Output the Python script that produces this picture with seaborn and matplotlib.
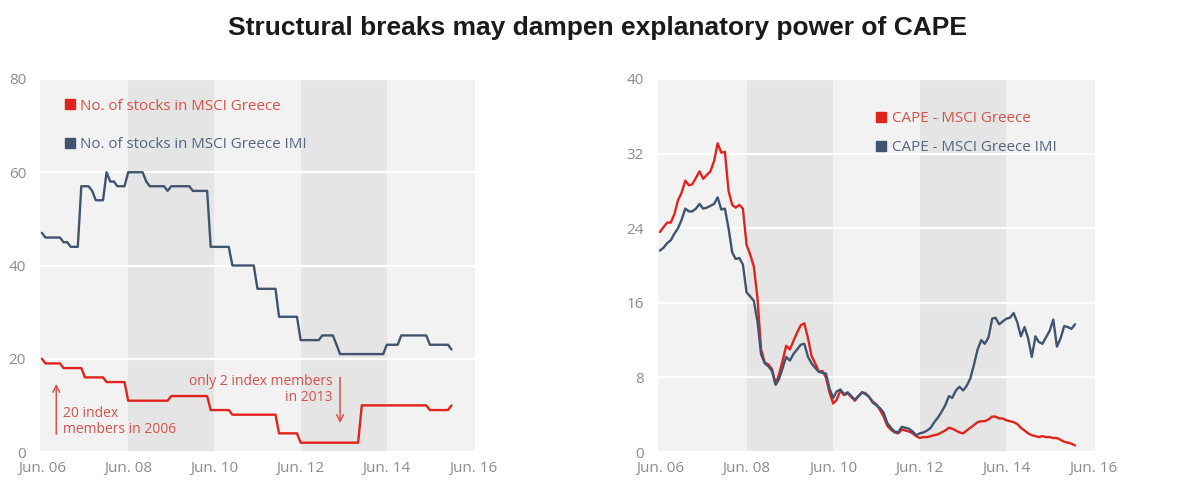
import matplotlib
matplotlib.use("Agg")
import matplotlib.pyplot as plt
import seaborn as sns
import pandas as pd
from matplotlib.lines import Line2D

# ---------------- data ----------------
# Number of index members, monthly, Jun 2006 .. Dec 2015
msci_greece_count = [
    20, 19, 19, 19, 19, 19, 18, 18, 18, 18, 18, 18,
    16, 16, 16, 16, 16, 16, 15, 15, 15, 15, 15, 15,
    11, 11, 11, 11, 11, 11, 11, 11, 11, 11, 11, 11,
    12, 12, 12, 12, 12, 12, 12, 12, 12, 12, 12, 9,
    9, 9, 9, 9, 9, 8, 8, 8, 8, 8, 8, 8,
    8, 8, 8, 8, 8, 8, 4, 4, 4, 4, 4, 4,
    2, 2, 2, 2, 2, 2, 2, 2, 2, 2, 2, 2,
    2, 2, 2, 2, 2, 10, 10, 10, 10, 10, 10, 10,
    10, 10, 10, 10, 10, 10, 10, 10, 10, 10, 10, 10,
    9, 9, 9, 9, 9, 9, 10,
]
msci_greece_imi_count = [
    47, 46, 46, 46, 46, 46, 45, 45, 44, 44, 44, 57,
    57, 57, 56, 54, 54, 54, 60, 58, 58, 57, 57, 57,
    60, 60, 60, 60, 60, 58, 57, 57, 57, 57, 57, 56,
    57, 57, 57, 57, 57, 57, 56, 56, 56, 56, 56, 44,
    44, 44, 44, 44, 44, 40, 40, 40, 40, 40, 40, 40,
    35, 35, 35, 35, 35, 35, 29, 29, 29, 29, 29, 29,
    24, 24, 24, 24, 24, 24, 25, 25, 25, 25, 23, 21,
    21, 21, 21, 21, 21, 21, 21, 21, 21, 21, 21, 21,
    23, 23, 23, 23, 25, 25, 25, 25, 25, 25, 25, 25,
    23, 23, 23, 23, 23, 23, 22,
]

# CAPE, monthly, Jun 2006 .. Jan 2016
cape_greece = [
    23.6, 24.1, 24.6, 24.6, 25.5, 27.0, 27.8, 29.1, 28.6, 28.7,
    29.4, 30.1, 29.3, 29.7, 30.1, 31.2, 33.1, 32.1, 32.2, 28.0,
    26.5, 26.2, 26.5, 26.1, 22.2, 21.2, 19.9, 16.5, 11.0, 9.6,
    9.4, 8.9, 7.3, 8.3, 9.8, 11.4, 11.0, 11.9, 12.8, 13.6,
    13.8, 12.2, 10.3, 9.5, 8.6, 8.7, 8.0, 6.4, 5.2, 5.6,
    6.6, 6.1, 6.3, 5.9, 5.5, 6.0, 6.4, 6.3, 5.9, 5.4,
    5.1, 4.5, 3.8, 2.8, 2.4, 2.1, 2.0, 2.4, 2.3, 2.2,
    2.0, 1.7, 1.5, 1.6, 1.6, 1.7, 1.8, 1.9, 2.1, 2.3,
    2.6, 2.5, 2.3, 2.1, 2.0, 2.3, 2.6, 2.9, 3.2, 3.3,
    3.3, 3.5, 3.8, 3.8, 3.6, 3.6, 3.4, 3.3, 3.2, 3.0,
    2.6, 2.3, 2.0, 1.8, 1.7, 1.6, 1.7, 1.6, 1.6, 1.5,
    1.5, 1.3, 1.1, 1.0, 0.9, 0.7,
]
cape_greece_imi = [
    21.6, 21.9, 22.4, 22.7, 23.4, 24.0, 24.9, 26.1, 25.8, 25.8,
    26.1, 26.6, 26.1, 26.2, 26.4, 26.6, 27.3, 26.0, 26.1, 24.0,
    21.4, 20.7, 20.8, 20.1, 17.1, 16.7, 16.2, 14.0, 10.5, 9.5,
    9.2, 8.7, 7.2, 7.8, 9.0, 10.2, 9.8, 10.5, 11.0, 11.5,
    11.6, 10.2, 9.5, 9.0, 8.6, 8.5, 8.4, 6.8, 5.8, 6.5,
    6.7, 6.2, 6.4, 6.0, 5.6, 6.0, 6.4, 6.2, 5.9, 5.3,
    5.0, 4.7, 4.2, 3.1, 2.6, 2.2, 2.1, 2.7, 2.6, 2.5,
    2.2, 1.8, 2.0, 2.1, 2.3, 2.6, 3.2, 3.7, 4.3, 5.0,
    6.0, 5.8, 6.6, 7.0, 6.6, 7.1, 7.9, 9.4, 11.0, 12.0,
    11.6, 12.3, 14.3, 14.4, 13.7, 14.0, 14.3, 14.4, 14.9, 13.9,
    12.4, 13.4, 12.2, 10.2, 12.4, 11.8, 11.6, 12.3, 13.0, 14.2,
    11.3, 12.2, 13.5, 13.4, 13.2, 13.7,
]

x_tick_dates = ["2006-06-01", "2008-06-01", "2010-06-01",
                "2012-06-01", "2014-06-01", "2016-06-01"]
x_tick_labels = ["Jun. 06", "Jun. 08", "Jun. 10", "Jun. 12", "Jun. 14", "Jun. 16"]
left_yticks = [0, 20, 40, 60, 80]
right_yticks = [0, 8, 16, 24, 32, 40]

left_labels = ["No. of stocks in MSCI Greece", "No. of stocks in MSCI Greece IMI"]
right_labels = ["CAPE - MSCI Greece", "CAPE - MSCI Greece IMI"]
title = "Structural breaks may dampen explanatory power of CAPE"

# ---------------- style ----------------
RED = "#e0231c"
BLUE = "#41546f"
RED_TXT = "#d9504a"
BLUE_TXT = "#55657e"
TICK = "#8c8c8c"
LIGHT = "#f2f2f2"
DARK = "#e5e5e5"

sns.set_theme(style="white")
plt.rcParams["font.family"] = ["Open Sans", "DejaVu Sans"]

count_dates = pd.date_range("2006-06-01", periods=len(msci_greece_count), freq="MS")
cape_dates = pd.date_range("2006-06-01", periods=len(cape_greece), freq="MS")
ticks = pd.to_datetime(x_tick_dates)

fig = plt.figure(figsize=(11.95, 4.87), dpi=100)
W, H = 1195, 487
ax1 = fig.add_axes([40 / W, 35 / H, 435 / W, 373 / H])
ax2 = fig.add_axes([658 / W, 35 / H, 437 / W, 373 / H])

pad = pd.Timedelta(days=16)


def style_axis(ax, yticks):
    ax.set_facecolor(LIGHT)
    for i in range(len(ticks) - 1):
        if i % 2 == 1:
            ax.axvspan(ticks[i], ticks[i + 1], color=DARK, lw=0, zorder=0.2)
    ax.set_xlim(ticks[0] - pad, ticks[-1] + pad)
    ax.set_ylim(yticks[0], yticks[-1])
    ax.set_xticks(ticks)
    ax.set_xticklabels(x_tick_labels)
    ax.set_yticks(yticks)
    ax.set_yticklabels([str(v) for v in yticks])
    ax.yaxis.grid(True, color="white", lw=1.6, zorder=0.5)
    ax.xaxis.grid(False)
    ax.set_axisbelow(True)
    for s in ax.spines.values():
        s.set_visible(False)
    ax.tick_params(axis="both", length=0, colors=TICK, labelsize=11)
    ax.tick_params(axis="x", pad=6.5)
    ax.tick_params(axis="y", pad=10)
    for lbl in ax.get_yticklabels():
        lbl.set_verticalalignment("center_baseline")
    ax.set_xlabel("")
    ax.set_ylabel("")


# left chart
sns.lineplot(x=count_dates, y=msci_greece_count, ax=ax1, color=RED, lw=1.7, zorder=3)
sns.lineplot(x=count_dates, y=msci_greece_imi_count, ax=ax1, color=BLUE, lw=1.7, zorder=3)
style_axis(ax1, left_yticks)

# right chart
sns.lineplot(x=cape_dates, y=cape_greece, ax=ax2, color=RED, lw=1.7, zorder=3)
sns.lineplot(x=cape_dates, y=cape_greece_imi, ax=ax2, color=BLUE, lw=1.7, zorder=4)
style_axis(ax2, right_yticks)


def add_legend(ax, labels, anchor, spacing):
    handles = [Line2D([], [], ls="none", marker="s", markersize=7, color=RED),
               Line2D([], [], ls="none", marker="s", markersize=7, color=BLUE)]
    ax.legend(handles, labels, loc="upper left", bbox_to_anchor=anchor,
              frameon=False, borderaxespad=0, borderpad=0,
              handlelength=0.6, handletextpad=0.4, labelspacing=spacing,
              fontsize=10.9, labelcolor=[RED_TXT, BLUE_TXT])


add_legend(ax1, left_labels, (0.058, 0.947), 1.55)
add_legend(ax2, right_labels, (0.50, 0.914), 0.95)

# annotations (left chart)
ax1.annotate("", xy=(pd.Timestamp("2006-10-01"), 15.2),
             xytext=(pd.Timestamp("2006-10-01"), 3.2),
             arrowprops=dict(arrowstyle="->", color=RED_TXT, lw=1.1))
ax1.text(pd.Timestamp("2006-12-01"), 6.6, "20 index\nmembers in 2006",
         color=RED_TXT, fontsize=10, ha="left", va="center", linespacing=1.1)
ax1.annotate("", xy=(pd.Timestamp("2013-05-01"), 5.6),
             xytext=(pd.Timestamp("2013-05-01"), 16.6),
             arrowprops=dict(arrowstyle="->", color=RED_TXT, lw=1.1))
ax1.text(pd.Timestamp("2013-03-01"), 13.4, "only 2 index members\nin 2013",
         color=RED_TXT, fontsize=10, ha="right", va="center", linespacing=1.1)

fig.text(0.5, 1 - 28 / H, title, ha="center", va="center",
         fontsize=19, fontweight="bold", color="#1a1a1a",
         family=["Liberation Sans", "DejaVu Sans"])

fig.savefig("out.png", dpi=100, facecolor="white")
